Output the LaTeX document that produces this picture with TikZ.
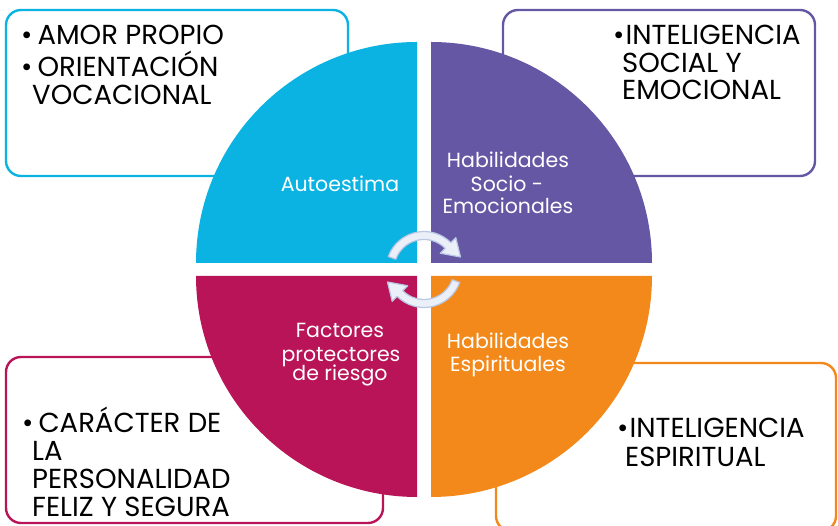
\documentclass[tikz,border=0pt]{standalone}
\usepackage{fontspec}
\setmainfont{Poppins}
\definecolor{qcyan}{RGB}{10,179,225}
\definecolor{qpurple}{RGB}{101,87,163}
\definecolor{qmag}{RGB}{184,20,87}
\definecolor{qorange}{RGB}{242,137,26}
\definecolor{arrfill}{RGB}{234,239,248}
\definecolor{arrline}{RGB}{185,198,228}
\begin{document}
\begin{tikzpicture}[x=1pt,y=1pt,
  boxframe/.style={line width=2.4pt, rounded corners=15pt},
  boxtext/.style={anchor=base west, inner sep=0pt, font=\fontsize{27.5}{30}\selectfont, text=black},
  qlabel/.style={anchor=base, inner sep=0pt, font=\fontsize{20.5}{23}\selectfont, text=white},
  cyclearrow/.style={fill=arrfill, draw=arrline, line width=1.2pt, line join=round}]
\useasboundingbox (0,0) rectangle (838,526);
% outer boxes
\draw[boxframe, qcyan]   (6,516) rectangle (348,350);
\draw[boxframe, qpurple] (503,516) rectangle (815,350);
\draw[boxframe, qmag]    (6,169) rectangle (383,3);
\draw[boxframe, qorange] (496,163) rectangle (836,-5);
% quadrants
\fill[qcyan]   (417,263) -- ++(-221,0) arc[start angle=180, end angle=90, radius=221] -- cycle;
\fill[qpurple] (431,263) -- ++(0,221) arc[start angle=90, end angle=0, radius=221] -- cycle;
\fill[qmag]    (417,250) -- ++(-221,0) arc[start angle=180, end angle=270, radius=221] -- cycle;
\fill[qorange] (431,250) -- ++(221,0) arc[start angle=0, end angle=-90, radius=221] -- cycle;
% cycle arrows
\coordinate (C) at (424,256.5);
\begin{scope}[shift={(C)}]
  \filldraw[cyclearrow] (160:38) arc[start angle=160, end angle=45, radius=38]
     -- (45:45) -- (36.5,12.5) -- (45:23) -- (45:30)
     arc[start angle=45, end angle=160, radius=30] -- cycle;
  \filldraw[cyclearrow, rotate=180] (160:38) arc[start angle=160, end angle=45, radius=38]
     -- (45:45) -- (36.5,12.5) -- (45:23) -- (45:30)
     arc[start angle=45, end angle=160, radius=30] -- cycle;
\end{scope}
% quadrant labels
\node[qlabel] (q1) at (340,334.3) {Autoestima};
\node[qlabel] (q2a) at (508,358) {Habilidades};
\node[qlabel] (q2b) at (507,334) {Socio -};
\node[qlabel] (q2c) at (508,312) {Emocionales};
\node[qlabel] (q3a) at (340,188) {Factores};
\node[qlabel] (q3b) at (341,164) {protectores};
\node[qlabel] (q3c) at (340,145) {de riesgo};
\node[qlabel] (q4a) at (508,177) {Habilidades};
\node[qlabel] (q4b) at (508,154) {Espirituales};
% box texts
\node[boxtext] (tl1) at (21,481) {\textbullet\hspace{5pt}AMOR PROPIO};
\node[boxtext] (tl2) at (21,449) {\textbullet\hspace{5pt}ORIENTACIÓN};
\node[boxtext] (tl3) at (32,421) {VOCACIONAL};
\node[boxtext] (tr1) at (613,481) {\textbullet\hspace{1pt}INTELIGENCIA};
\node[boxtext] (tr2) at (622,453) {SOCIAL Y};
\node[boxtext] (tr3) at (622,426) {EMOCIONAL};
\node[boxtext] (bl1) at (22,93) {\textbullet\hspace{5pt}CARÁCTER DE};
\node[boxtext] (bl2) at (32,65) {LA};
\node[boxtext] (bl3) at (32,37) {PERSONALIDAD};
\node[boxtext] (bl4) at (32,9) {FELIZ Y SEGURA};
\node[boxtext] (br1) at (617,88) {\textbullet\hspace{1pt}INTELIGENCIA};
\node[boxtext] (br2) at (625,59) {ESPIRITUAL};
\end{tikzpicture}
\end{document}
